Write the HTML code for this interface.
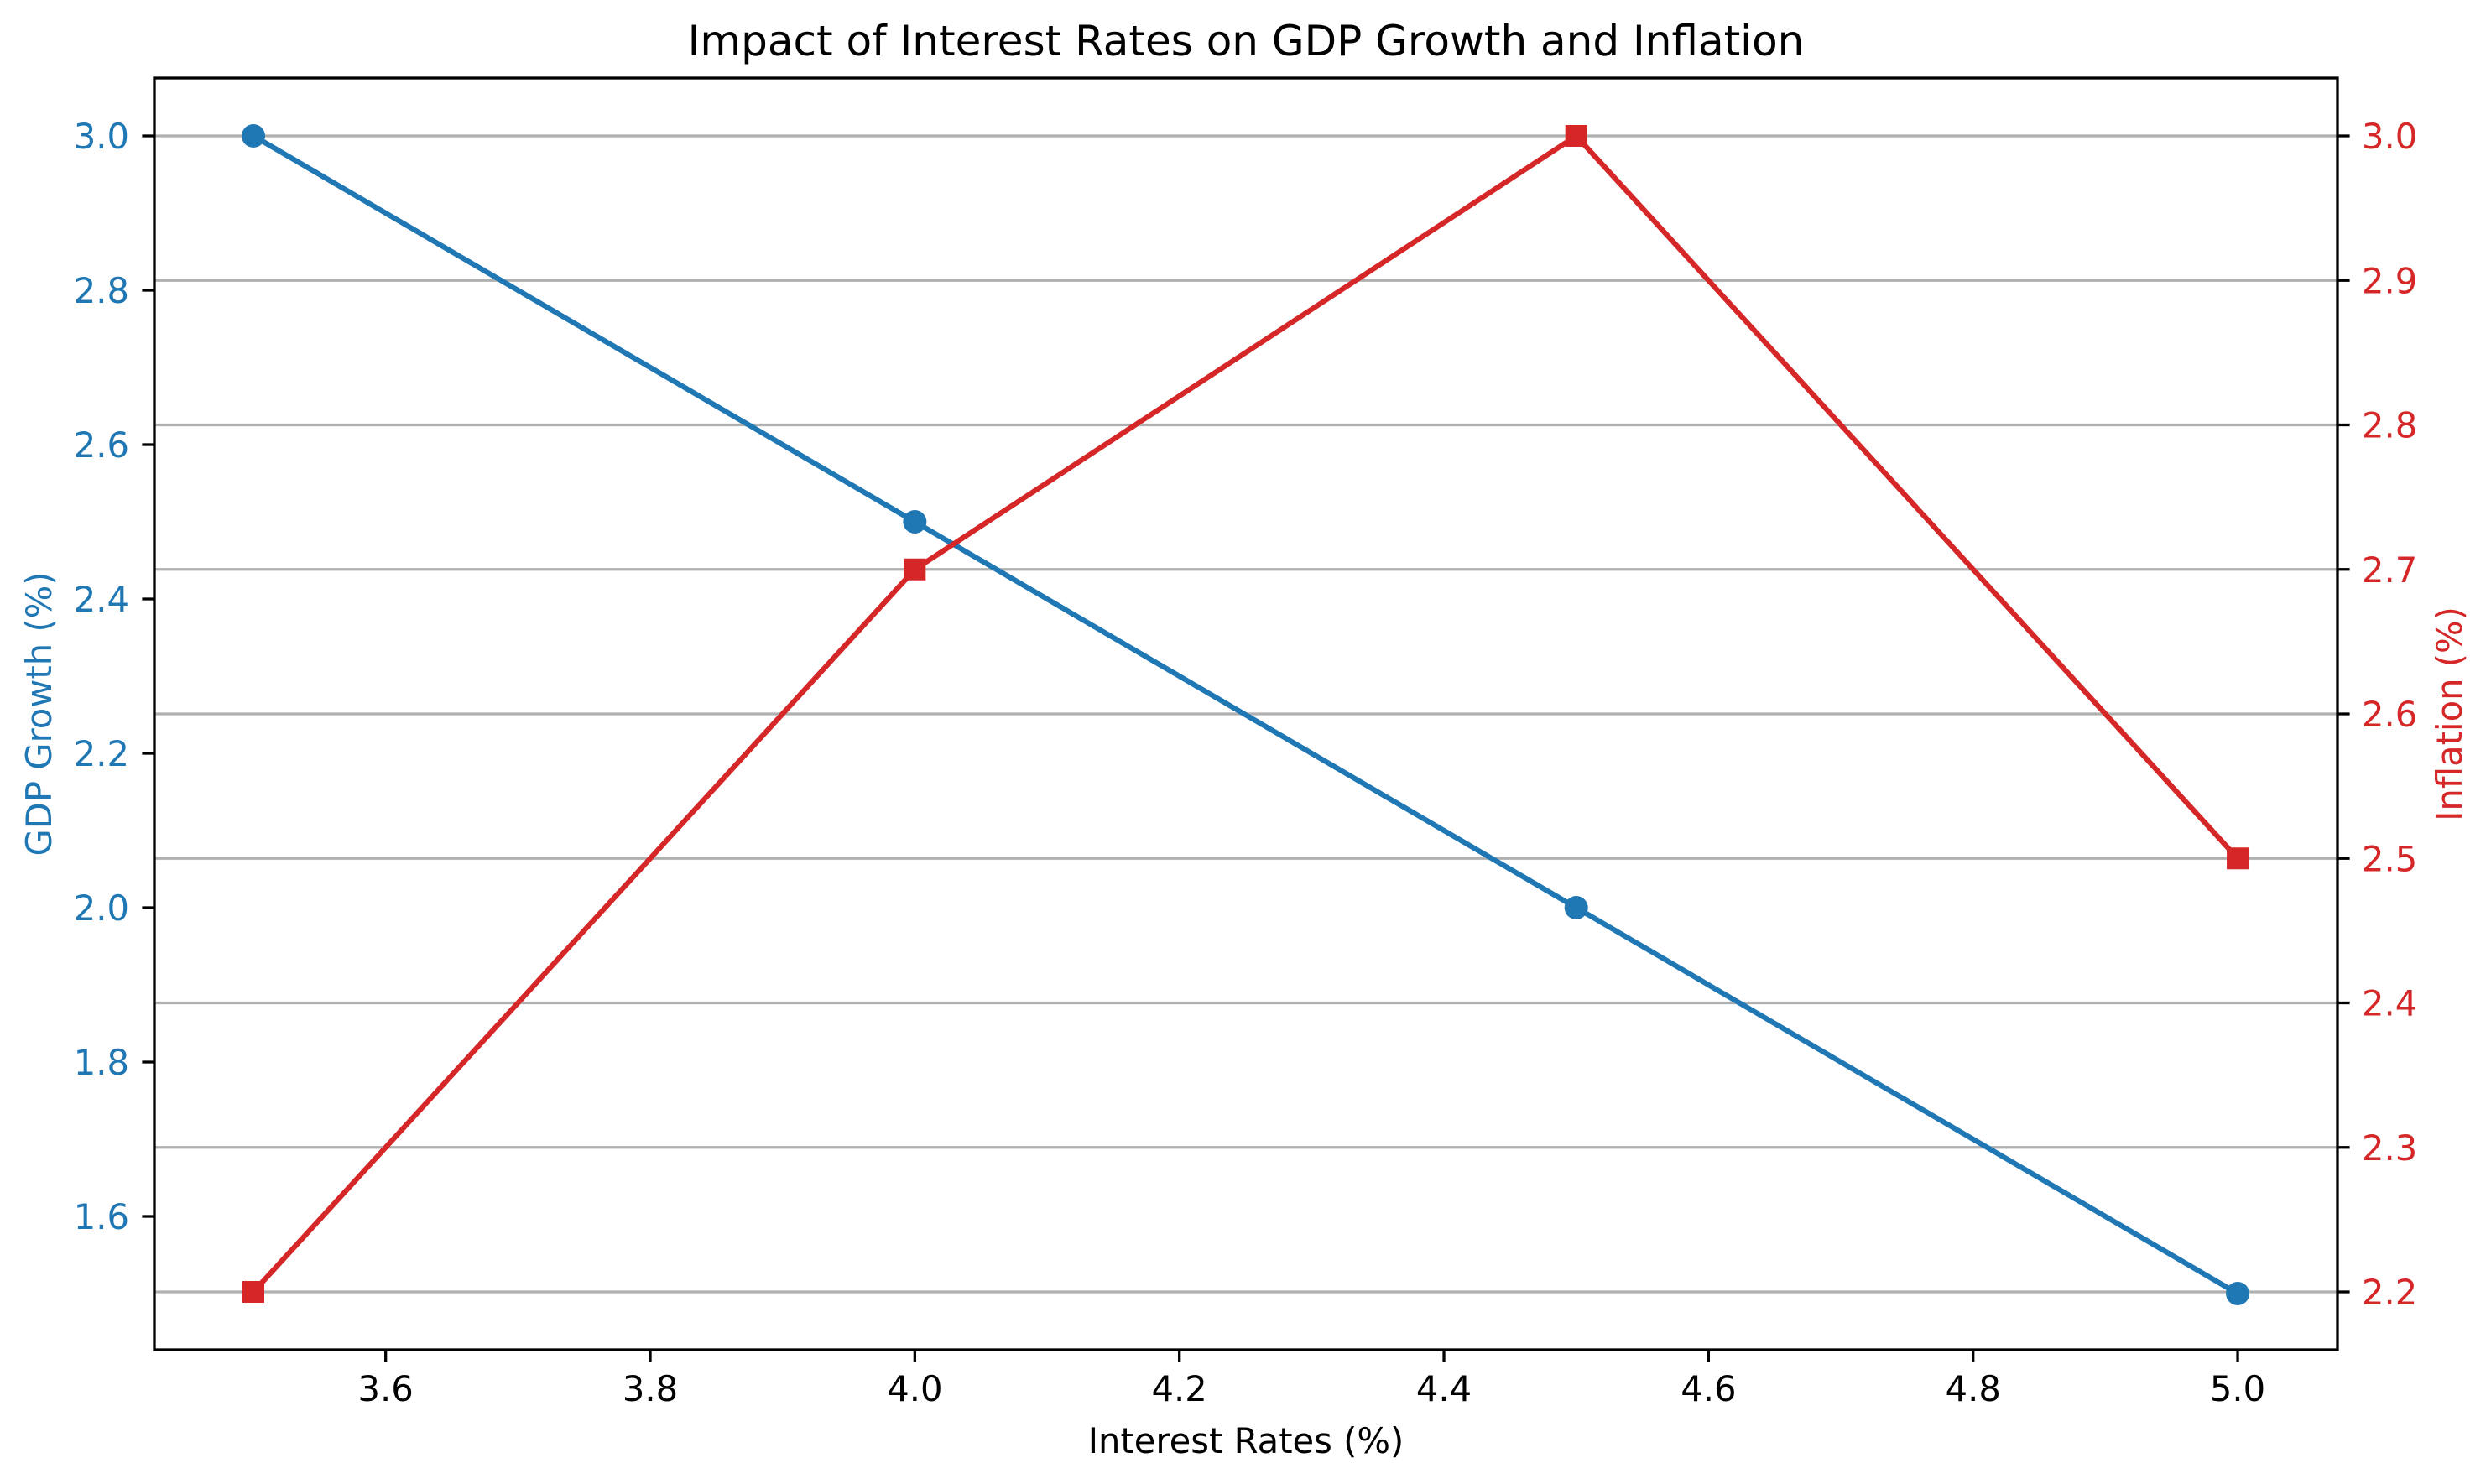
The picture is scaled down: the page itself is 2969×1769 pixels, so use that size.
<!DOCTYPE html>
<html><head><meta charset="utf-8"><style>
body{margin:0;background:#fff}
text{font-family:"DejaVu Sans","Liberation Sans",sans-serif}
</style></head><body>
<svg id="chart" width="2969" height="1769" xmlns="http://www.w3.org/2000/svg" style="position:absolute;left:0;top:0">
<rect width="2969" height="1769" fill="#fff"/>
<g id="grid"></g><g id="lines"></g><g id="axes"></g>
<text x="1485" y="66" font-size="50" text-anchor="middle" fill="#000">Impact of Interest Rates on GDP Growth and Inflation</text>
<text x="1485" y="1732" font-size="41.7" text-anchor="middle" fill="#000">Interest Rates (%)</text>
<text transform="translate(61,851) rotate(-90)" font-size="41.7" text-anchor="middle" fill="#1f77b4">GDP Growth (%)</text>
<text transform="translate(2934,851) rotate(-90)" font-size="41.7" text-anchor="middle" fill="#d62728">Inflation (%)</text>
</svg>
<script>
const rates=[3.5,4.0,4.5,5.0];
const gdp=[3.0,2.5,2.0,1.5];
const inflation=[2.2,2.7,3.0,2.5];
const xTicks=[3.6,3.8,4.0,4.2,4.4,4.6,4.8,5.0];
const gdpTicks=[1.6,1.8,2.0,2.2,2.4,2.6,2.8,3.0];
const infTicks=[2.2,2.3,2.4,2.5,2.6,2.7,2.8,2.9,3.0];
const L=184,R=2786,T=93,B=1609;
const xs=v=>302+(v-3.5)*1576.7;
const yl=v=>162+(3.0-v)*920;
const yr=v=>1540-(v-2.2)*1722.5;
const NS="http://www.w3.org/2000/svg";
function mk(p,tag,a,txt){const e=document.createElementNS(NS,tag);for(const k in a)e.setAttribute(k,a[k]);if(txt!==undefined)e.textContent=txt;p.appendChild(e);return e;}
const grid=document.getElementById('grid'),lines=document.getElementById('lines'),axes=document.getElementById('axes');
infTicks.forEach(v=>{const g=mk(grid,'line',{x1:L,x2:R,y1:yr(v),y2:yr(v),stroke:'#b0b0b0','stroke-width':3.3});

});
const blue='#1f77b4',red='#d62728';
let p=mk(lines,'polyline',{points:rates.map((r,i)=>xs(r)+','+yl(gdp[i])).join(' '),fill:'none',stroke:blue,'stroke-width':6.25,'stroke-linejoin':'round'});


rates.forEach((r,i)=>{const c=mk(lines,'circle',{cx:xs(r),cy:yl(gdp[i]),r:14,fill:blue});

});
p=mk(lines,'polyline',{points:rates.map((r,i)=>xs(r)+','+yr(inflation[i])).join(' '),fill:'none',stroke:red,'stroke-width':6.25,'stroke-linejoin':'round'});


rates.forEach((r,i)=>{const s=mk(lines,'rect',{x:xs(r)-13,y:yr(inflation[i])-13,width:26,height:26,fill:red});

});
const fr=mk(axes,'rect',{x:L,y:T,width:R-L,height:B-T,fill:'none',stroke:'#000','stroke-width':3.3});


xTicks.forEach(v=>{mk(axes,'line',{x1:xs(v),x2:xs(v),y1:B,y2:B+14.6,stroke:'#000','stroke-width':3.3});
const t=mk(axes,'text',{x:xs(v),y:1670,'font-size':41.7,'text-anchor':'middle',fill:'#000'},v.toFixed(1));

});
gdpTicks.forEach(v=>{mk(axes,'line',{x1:L-14.6,x2:L,y1:yl(v),y2:yl(v),stroke:'#000','stroke-width':3.3});
const t=mk(axes,'text',{x:154,y:yl(v)+15,'font-size':41.7,'text-anchor':'end',fill:blue},v.toFixed(1));

});
infTicks.forEach(v=>{mk(axes,'line',{x1:R,x2:R+14.6,y1:yr(v),y2:yr(v),stroke:'#000','stroke-width':3.3});
const t=mk(axes,'text',{x:2815,y:yr(v)+15,'font-size':41.7,'text-anchor':'start',fill:red},v.toFixed(1));

});
</script>
</body></html>
